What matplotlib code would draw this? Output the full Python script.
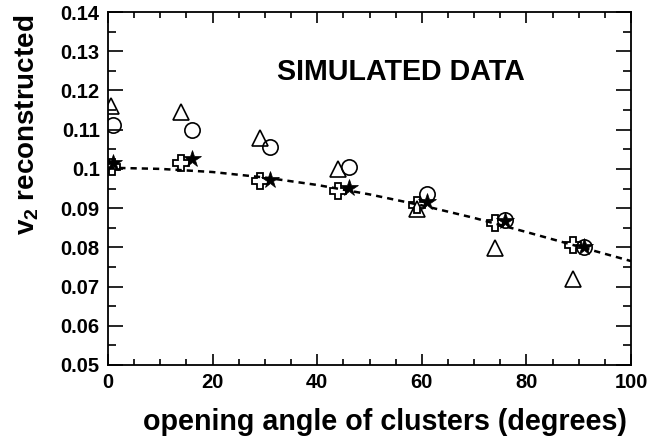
import matplotlib
matplotlib.use("Agg")
import matplotlib.pyplot as plt
from matplotlib.ticker import MultipleLocator, FuncFormatter

plt.rcParams['font.family'] = ['Liberation Sans', 'DejaVu Sans']
plt.rcParams['font.weight'] = 'bold'
plt.rcParams['mathtext.fontset'] = 'custom'
plt.rcParams['mathtext.rm'] = 'Liberation Sans:bold'
plt.rcParams['mathtext.bf'] = 'Liberation Sans:bold'
plt.rcParams['mathtext.default'] = 'rm'

# data
tri_x = [0.5, 14, 29, 44, 59, 74, 89]
tri_y = [0.1161, 0.1145, 0.1080, 0.1000, 0.0897, 0.0799, 0.0720]
circ_x = [1, 16, 31, 46, 61, 76, 91]
circ_y = [0.1112, 0.1100, 0.1056, 0.1005, 0.0937, 0.0869, 0.0800]
cross_x = [0.8, 14, 29, 44, 59, 74, 89]
cross_y = [0.1005, 0.1016, 0.0968, 0.0944, 0.0907, 0.0861, 0.0805]
star_x = [1, 16, 31, 46, 61, 76, 91]
star_y = [0.1016, 0.1024, 0.0972, 0.0952, 0.0915, 0.0867, 0.0800]
fit_x = [0, 10, 20, 30, 40, 50, 60, 70, 80, 90, 100]
fit_y = [0.1003, 0.1000, 0.0992, 0.0978, 0.0959, 0.0935, 0.0907, 0.0875, 0.0839, 0.0802, 0.0765]

fig = plt.figure(figsize=(6.69, 4.45), dpi=100)
ax = fig.add_axes([108/669, 1-365/445, 523/669, 353/445])

ax.plot(fit_x, fit_y, color='black', lw=1.8, dashes=(2.5, 2.0), zorder=2)
ax.plot(tri_x, tri_y, ls='none', marker='^', ms=12, mfc='none', mec='black', mew=1.2, zorder=3)
ax.plot(circ_x, circ_y, ls='none', marker='o', ms=11, mfc='none', mec='black', mew=1.2, zorder=3)
ax.plot(cross_x, cross_y, ls='none', marker='P', ms=11.5, mfc='none', mec='black', mew=1.3, zorder=4)
ax.plot(star_x, star_y, ls='none', marker='*', ms=13, mfc='black', mec='black', mew=0.5, zorder=5)

ax.set_xlim(0, 100)
ax.set_ylim(0.05, 0.14)
ax.xaxis.set_major_locator(MultipleLocator(20))
ax.xaxis.set_minor_locator(MultipleLocator(5))
ax.yaxis.set_major_locator(MultipleLocator(0.01))
ax.yaxis.set_minor_locator(MultipleLocator(0.005))
ax.yaxis.set_major_formatter(FuncFormatter(lambda v, p: ('%.2f' % v).rstrip('0').rstrip('.') if v != 0 else '0'))
ax.xaxis.set_major_formatter(FuncFormatter(lambda v, p: '%d' % round(v)))

ax.tick_params(axis='both', which='both', direction='in', top=True, right=True, width=1.2, labelsize=14.5)
ax.tick_params(axis='y', which='major', length=11, pad=6)
ax.tick_params(axis='y', which='minor', length=5.5)
ax.tick_params(axis='x', which='major', length=8, pad=6)
ax.tick_params(axis='x', which='minor', length=4)
for lab in ax.get_xticklabels() + ax.get_yticklabels():
    lab.set_fontweight('bold')
for s in ax.spines.values():
    s.set_linewidth(1.3)

ax.text(32.3, 0.1248, 'SIMULATED DATA', fontsize=20.6, fontweight='bold', ha='left', va='center')

fig.text(627/669, 1-430/445, 'opening angle of clusters (degrees)', fontsize=20.6,
         fontweight='bold', ha='right', va='baseline')
fig.text(26.5/669, 1-15/445, r'v$_2$ reconstructed', fontsize=20, fontweight='bold',
         rotation=90, ha='center', va='top')

fig.savefig('out.png', dpi=100)
